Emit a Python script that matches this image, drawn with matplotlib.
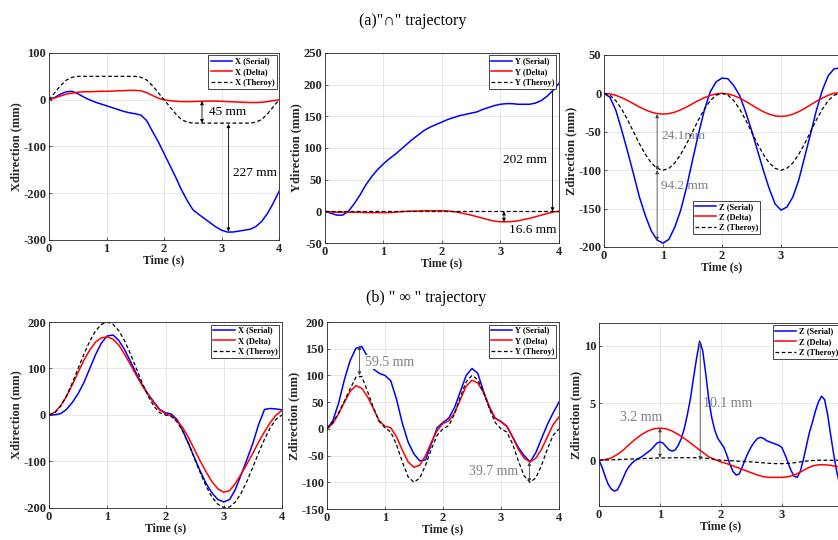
import numpy as np
import matplotlib
matplotlib.use('Agg')
import matplotlib.pyplot as plt

plt.rcParams['font.family'] = ['Liberation Serif', 'DejaVu Serif']
plt.rcParams['axes.unicode_minus'] = False

t = np.linspace(0, 4, 41)
t_fine = np.linspace(0, 4, 81)

# (a) "∩" trajectory
xa_serial = [0, 5, 12, 17, 18, 13, 6, 0, -5, -9, -13, -17, -21, -25, -28, -30, -33, -45, -68, -90,
             -115, -140, -165, -192, -215, -235, -245, -254, -263, -272, -279, -283, -283, -281, -279,
             -277, -271, -260, -243, -221, -196]
xa_delta = [0, 4, 8, 12, 14, 16, 17, 17, 17.5, 18, 18, 18.5, 19, 19.5, 20, 20, 19, 15, 9, 3,
            0, -2, -3, -4, -4, -4, -3.5, -3, -3, -3, -3.5, -4, -4.5, -5, -5.5, -6, -6, -5.5, -4, -2, 0]
xa_theory = [0, 15, 30, 42, 48, 50, 50, 50, 50, 50, 50, 50, 50, 50, 50, 50, 48, 42, 30, 15,
             0, -15, -30, -42, -48, -50, -50, -50, -50, -50, -50, -50, -50, -50, -50, -50, -48, -42, -30, -15, 0]

ya_serial = [0, -3, -6, -6, 0, 12, 26, 42, 55, 66, 75, 83, 90, 98, 106, 114, 121, 128, 133, 137,
             141, 145, 148, 151, 153, 155, 157, 161, 164, 167, 169, 170, 170, 169, 169, 169, 171, 175, 182, 191, 202]
ya_delta = [0, -1, -1.5, -1.5, -1.5, -1.5, -1.5, -2, -2, -2, -2, -2, -1.5, -0.5, 0, 0.5, 0.5, 1, 1, 1,
            1, 0.5, -0.5, -2, -4, -6, -8.5, -11, -13.5, -15.5, -16.5, -16.6, -16, -15, -13, -11, -8.5, -6, -3.5, -1, 0]
ya_theory = [0] * 41

za_serial = [0, -5, -22, -48, -76, -105, -135, -159, -179, -191, -195, -190, -174, -152, -122, -87, -53, -22, 2, 15,
             20, 19, 10, -3, -24, -48, -74, -100, -124, -144, -152, -148, -135, -113, -83, -53, -22, 4, 23, 32, 33]
za_delta = [0, -0.7, -2.6, -5.6, -9.3, -13.5, -17.7, -21.4, -24.4, -26.3, -27, -26.3, -24.4, -21.4, -17.7, -13.5,
            -9.3, -5.6, -2.6, -0.7, 0, -0.7, -2.9, -6.2, -10.3, -15, -19.7, -23.8, -27.1, -29.3, -30, -29.3,
            -27.1, -23.8, -19.7, -15, -10.3, -6.2, -2.5, 0.2, 1.0]
za_theory = [0, -2.4, -9.5, -20.6, -34.5, -50, -65.5, -79.4, -90.5, -97.6, -100, -97.6, -90.5, -79.4, -65.5, -50,
             -34.5, -20.6, -9.5, -2.4, 0, -2.4, -9.5, -20.6, -34.5, -50, -65.5, -79.4, -90.5, -97.6, -100, -97.6,
             -90.5, -79.4, -65.5, -50, -34.5, -20.6, -9.5, -2.4, 0]

# (b) "∞" trajectory
xb_serial = [0, 0.5, 3, 12, 27, 46, 70, 100, 130, 155, 170, 172, 160, 140, 115, 89, 65, 45, 28, 12,
             5, 2, -10, -35, -63, -93, -122, -148, -168, -182, -187, -182, -160, -128, -95, -61, -20, 12, 14, 13, 11]
xb_delta = [0, 6, 20, 40, 65, 92, 118, 140, 157, 166, 168, 163, 150, 130, 108, 85, 63, 44, 26, 11,
            3, -2, -12, -28, -50, -75, -100, -123, -144, -159, -166, -163, -147, -127, -105, -82, -58, -36, -16, 0, 10]
xb_theory = [0, 5, 19, 41, 69, 100, 131, 159, 181, 195, 200, 195, 181, 159, 131, 100, 69, 41, 19, 5,
             0, -3, -15, -36, -63, -94, -125, -154, -177, -192, -199, -198, -187, -168, -142, -112, -81, -52, -27, -9, 0]

yb_serial = [0, 15, 48, 92, 128, 151, 154, 135, 112, 104, 100, 90, 55, 10, -25, -47, -60, -58, -28, 2,
             12, 20, 40, 70, 100, 113, 104, 70, 40, 20, 14, 5, -15, -35, -50, -62, -45, -18, 8, 30, 50]
yb_delta = [0, 10, 28, 50, 70, 81, 76, 60, 38, 15, 5, 2, -15, -40, -62, -72, -68, -50, -25, -3,
            10, 15, 30, 55, 80, 91, 86, 68, 42, 20, 13, 5, -15, -38, -55, -62, -55, -38, -15, 8, 22]
yb_theory = [0, 12, 30, 52, 75, 97, 98, 70, 40, 14, 2, -6, -30, -62, -90, -100, -92, -68, -38, -12,
             0, 6, 28, 60, 88, 100, 92, 68, 38, 12, 0, -6, -28, -60, -88, -100, -92, -68, -38, -12, 0]

zb_serial = [0, -0.6, -1.4, -2.1, -2.5, -2.7, -2.6, -2.1, -1.5, -0.9, -0.5, -0.2, 0.0, 0.15, 0.3, 0.5,
             0.7, 0.9, 1.2, 1.5, 1.6, 1.5, 1.2, 0.9, 0.8, 0.9, 1.3, 1.9, 2.8, 4.0, 5.4, 7.2, 8.9, 10.4,
             9.6, 7.6, 5.3, 3.7, 2.6, 1.9, 1.5, 1.1, 0.4, -0.4, -1.0, -1.3, -1.2, -0.6, 0.1, 0.7, 1.2,
             1.6, 1.9, 2.0, 1.9, 1.7, 1.6, 1.5, 1.4, 1.3, 1.1, 0.5, -0.2, -0.9, -1.4, -1.5, -1.0, 0.0,
             1.2, 2.4, 3.3, 4.3, 5.1, 5.6, 5.3, 4.0, 2.2, 0.5, -1.0, -2.2, -3.0]
zb_delta = [0, 0.05, 0.2, 0.5, 0.9, 1.4, 1.85, 2.25, 2.55, 2.75, 2.8, 2.75, 2.55, 2.25, 1.9, 1.5, 1.1, 0.7,
            0.3, 0.05, -0.15, -0.3, -0.5, -0.7, -0.9, -1.1, -1.3, -1.45, -1.5, -1.5, -1.5, -1.45, -1.3,
            -1.05, -0.75, -0.5, -0.4, -0.4, -0.45, -0.55, -0.6]
zb_theory = [0, 0.02, 0.04, 0.06, 0.08, 0.1, 0.12, 0.14, 0.16, 0.18, 0.2, 0.2, 0.21, 0.22, 0.22, 0.22,
             0.21, 0.2, 0.15, 0.08, 0, -0.03, -0.06, -0.09, -0.12, -0.15, -0.19, -0.23, -0.27, -0.3,
             -0.3, -0.28, -0.22, -0.15, -0.08, -0.03, 0, 0, 0, 0, 0]

time_ticks = [0, 1, 2, 3, 4]
GRAY = '#7f7f7f'


def style_axes(ax, ylim, yticks, ylabel, clipped=False):
    ax.set_xlim(0, 4)
    ax.set_ylim(*ylim)
    ax.set_xticks(time_ticks)
    # right-hand panels run past the figure edge, so the last time label is dropped
    ax.set_xticklabels([str(v) if not (clipped and v == 4) else '' for v in time_ticks])
    ax.set_yticks(yticks)
    ax.grid(True, color='#e3e3e3', lw=0.6)
    ax.set_axisbelow(True)
    ax.tick_params(direction='in', length=2.5, width=0.5, labelsize=9, pad=2,
                   color='#262626', labelcolor='#262626')
    for lab in ax.get_xticklabels() + ax.get_yticklabels():
        lab.set_fontweight('bold')
    for sp in ax.spines.values():
        sp.set_color('#262626')
        sp.set_linewidth(0.6)
    ax.set_xlabel('Time (s)', fontsize=8.5, fontweight='bold', labelpad=0, color='#262626')
    ax.set_ylabel(ylabel, fontsize=9, fontweight='bold', labelpad=1, color='#262626')


def draw(ax, tt, serial, delta, theory, name, t_serial=None, **legkw):
    ts = tt if t_serial is None else t_serial
    ax.plot(ts, serial, color='b', lw=1.1, label=f'{name} (Serial)')
    ax.plot(tt, delta, color='r', lw=1.1, label=f'{name} (Delta)')
    ax.plot(tt, theory, color='k', lw=0.9, ls=(0, (3, 2)), label=f'{name} (Theroy)')
    kw = dict(loc='upper right', borderaxespad=0.3)
    kw.update(legkw)
    leg = ax.legend(prop={'size': 6, 'weight': 'bold'}, fancybox=False, edgecolor='#262626',
                    framealpha=1, handlelength=2.6, handletextpad=0.3, borderpad=0.25,
                    labelspacing=0.3, **kw)
    leg.get_frame().set_linewidth(0.6)


def gap(ax, x, y0, y1, color='k'):
    ax.annotate('', xy=(x, y1), xytext=(x, y0),
                arrowprops=dict(arrowstyle='<|-|>', color=color, lw=0.6,
                                mutation_scale=5, shrinkA=0, shrinkB=0))


fig = plt.figure(figsize=(8.38, 5.40), dpi=100)

ax1 = fig.add_axes([0.0585, 0.5556, 0.2745, 0.3463])
ax2 = fig.add_axes([0.3878, 0.5500, 0.2792, 0.3519])
ax3 = fig.add_axes([0.7208, 0.5426, 0.2816, 0.3556])
ax4 = fig.add_axes([0.0585, 0.0593, 0.2780, 0.3444])
ax5 = fig.add_axes([0.3902, 0.0574, 0.2768, 0.3463])
ax6 = fig.add_axes([0.7148, 0.0630, 0.2910, 0.3390])

# top row
draw(ax1, t, xa_serial, xa_delta, xa_theory, 'X')
style_axes(ax1, (-300, 100), [-300, -200, -100, 0, 100], 'Xdirection (mm)')
gap(ax1, 2.66, -3, -50)
ax1.text(2.78, -27, '45 mm', fontsize=9.5, va='center')
gap(ax1, 3.12, -52, -282)
ax1.text(3.2, -157, '227 mm', fontsize=9.5, va='center')

draw(ax2, t, ya_serial, ya_delta, ya_theory, 'Y')
style_axes(ax2, (-50, 250), [-50, 0, 50, 100, 150, 200, 250], 'Ydirection (mm)')
gap(ax2, 3.89, 0, 202)
ax2.text(3.05, 81, '202 mm', fontsize=9.5, va='center')
gap(ax2, 3.06, 0, -16.6)
ax2.text(3.15, -29, '16.6 mm', fontsize=9.5, va='center')

draw(ax3, t, za_serial, za_delta, za_theory, 'Z', loc='lower left', bbox_to_anchor=(0.365, 0.055))
style_axes(ax3, (-200, 50), [-200, -150, -100, -50, 0, 50], 'Zdirection (mm)', clipped=True)
gap(ax3, 0.9, -27, -100, color='#444444')
ax3.text(0.97, -56, '24.1mm', fontsize=9.5, va='center', color=GRAY)
gap(ax3, 0.9, -100, -192, color='#444444')
ax3.text(0.97, -120, '94.2 mm', fontsize=9.5, va='center', color=GRAY)

# bottom row
draw(ax4, t, xb_serial, xb_delta, xb_theory, 'X')
style_axes(ax4, (-200, 200), [-200, -100, 0, 100, 200], 'Xdirection (mm)')

draw(ax5, t, yb_serial, yb_delta, yb_theory, 'Y')
style_axes(ax5, (-150, 200), [-150, -100, -50, 0, 50, 100, 150, 200], 'Zdirection (mm)')
gap(ax5, 0.56, 100, 155, color='#444444')
ax5.text(0.66, 125, '59.5 mm', fontsize=10, va='center', color=GRAY,
         bbox=dict(facecolor='white', edgecolor='none', pad=0.5))
gap(ax5, 3.49, -62, -100, color='#444444')
ax5.text(3.3, -80, '39.7 mm', fontsize=10, va='center', ha='right', color=GRAY)

draw(ax6, t, zb_serial, zb_delta, zb_theory, 'Z', t_serial=t_fine)
style_axes(ax6, (-4, 12), [0, 5, 10], 'Zdirection (mm)', clipped=True)
gap(ax6, 1.0, 0.2, 2.8, color='#444444')
ax6.text(0.35, 3.7, '3.2 mm', fontsize=10, va='center', color=GRAY)
gap(ax6, 1.66, 0, 10.4, color='#444444')
ax6.text(1.7, 5.0, '10.1 mm', fontsize=10, va='center', color=GRAY)

fig.text(0.492, 0.962, '(a)"∩" trajectory', fontsize=11.5, ha='center', va='center')
fig.text(0.508, 0.448, '(b) " ∞ " trajectory', fontsize=11.5, ha='center', va='center')

fig.savefig('out.png', dpi=100)
